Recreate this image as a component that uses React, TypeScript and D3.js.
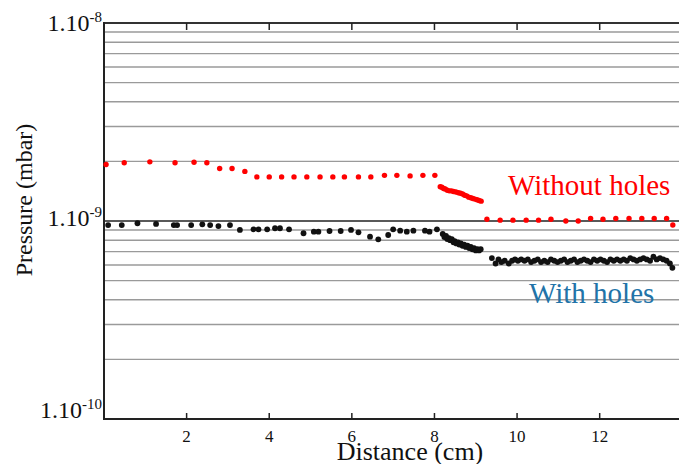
import React, { useEffect, useRef } from 'react';
import * as d3 from 'd3';

// distance (cm), pressure (x1e-9 mbar)
const withoutHoles: [number, number][] = [
  [0.05, 1.93], [0.49, 1.97], [1.11, 1.99], [1.72, 1.97], [2.18, 1.98], [2.49, 1.97],
  [2.8, 1.84], [3.1, 1.84], [3.41, 1.78], [3.7, 1.67], [4.0, 1.67], [4.3, 1.67],
  [4.6, 1.67], [4.91, 1.67], [5.23, 1.67], [5.54, 1.67], [5.82, 1.67], [6.16, 1.67],
  [6.46, 1.67], [6.79, 1.7], [7.09, 1.7], [7.41, 1.69], [7.72, 1.7], [8.01, 1.7],
  [8.14, 1.49], [8.18, 1.48], [8.22, 1.46], [8.26, 1.45], [8.31, 1.43], [8.36, 1.42],
  [8.41, 1.42], [8.46, 1.41], [8.52, 1.4], [8.58, 1.39], [8.63, 1.38], [8.68, 1.37],
  [8.73, 1.35], [8.78, 1.34], [8.83, 1.32], [8.88, 1.31], [8.93, 1.3], [8.98, 1.29],
  [9.03, 1.28], [9.08, 1.27], [9.13, 1.26],
  [9.27, 1.02], [9.59, 1.01], [9.9, 1.01], [10.22, 1.01], [10.52, 1.01], [10.82, 1.02],
  [11.18, 1.0], [11.48, 1.0], [11.78, 1.03], [12.08, 1.02], [12.39, 1.03], [12.71, 1.03],
  [13.02, 1.03], [13.32, 1.03], [13.62, 1.03], [13.77, 0.955]
];

const withHoles: [number, number][] = [
  [0.1, 0.954], [0.43, 0.954], [0.81, 0.974], [1.26, 0.966], [1.69, 0.954], [1.77, 0.954],
  [2.11, 0.954], [2.38, 0.962], [2.57, 0.954], [2.77, 0.943], [3.05, 0.954], [3.29, 0.901],
  [3.62, 0.908], [3.74, 0.908], [3.95, 0.908], [4.14, 0.919], [4.26, 0.919], [4.48, 0.908],
  [4.83, 0.867], [5.08, 0.883], [5.19, 0.883], [5.46, 0.89], [5.73, 0.89], [5.98, 0.901],
  [6.16, 0.877], [6.44, 0.833], [6.64, 0.808], [6.88, 0.85], [7.0, 0.908], [7.17, 0.894],
  [7.33, 0.883], [7.49, 0.894], [7.77, 0.894], [7.88, 0.883], [8.06, 0.908],
  [8.2, 0.86], [8.24, 0.83], [8.28, 0.84], [8.31, 0.81], [8.35, 0.82], [8.38, 0.8],
  [8.42, 0.81], [8.46, 0.78], [8.49, 0.79], [8.53, 0.77], [8.57, 0.78], [8.6, 0.76],
  [8.64, 0.77], [8.68, 0.75], [8.72, 0.76], [8.76, 0.74], [8.8, 0.75], [8.84, 0.73],
  [8.88, 0.74], [8.92, 0.72], [8.96, 0.73], [9.0, 0.71], [9.04, 0.72], [9.08, 0.71], [9.12, 0.72],
  [9.39, 0.65], [9.48, 0.61], [9.55, 0.64], [9.62, 0.62], [9.7, 0.63], [9.8, 0.61],
  [9.88, 0.63], [9.95, 0.64], [10.02, 0.63], [10.1, 0.64], [10.18, 0.63], [10.26, 0.64],
  [10.34, 0.62], [10.42, 0.63], [10.5, 0.64], [10.58, 0.62], [10.66, 0.63], [10.74, 0.62],
  [10.82, 0.64], [10.9, 0.63], [10.98, 0.62], [11.06, 0.63], [11.14, 0.64], [11.22, 0.62],
  [11.3, 0.63], [11.38, 0.64], [11.46, 0.62], [11.54, 0.63], [11.62, 0.64], [11.7, 0.63],
  [11.78, 0.62], [11.86, 0.64], [11.94, 0.63], [12.02, 0.64], [12.1, 0.63], [12.18, 0.62],
  [12.26, 0.64], [12.34, 0.63], [12.42, 0.64], [12.5, 0.63], [12.58, 0.64], [12.66, 0.63],
  [12.74, 0.65], [12.82, 0.64], [12.9, 0.63], [12.98, 0.64], [13.06, 0.65], [13.14, 0.64],
  [13.22, 0.63], [13.3, 0.66], [13.38, 0.64], [13.46, 0.65], [13.54, 0.64], [13.62, 0.63],
  [13.7, 0.61], [13.76, 0.58]
];

const xTicks = [2, 4, 6, 8, 10, 12];
const yDecades = [
  { v: 1e-8, exp: '-8' },
  { v: 1e-9, exp: '-9' },
  { v: 1e-10, exp: '-10' }
];
const minorFactors = [2, 3, 4, 5, 6, 7, 8, 9];

const FONT = '"Liberation Serif", "Times New Roman", serif';

export default function App() {
  const svgRef = useRef<SVGSVGElement>(null);

  useEffect(() => {
    const width = 679;
    const height = 464;
    const left = 104, right = 679, top = 23, bottom = 419;

    const svg = d3.select(svgRef.current);
    svg.selectAll('*').remove();
    svg.attr('width', width).attr('height', height);

    const x = d3.scaleLinear().domain([0, 13.92]).range([left, right]);
    const y = d3.scaleLog().domain([1e-10, 1e-8]).range([bottom, top]);

    // minor log grid
    const gridVals: number[] = [];
    [1e-10, 1e-9].forEach(d => minorFactors.forEach(f => gridVals.push(d * f)));

    svg.append('g')
      .selectAll('line')
      .data(gridVals)
      .join('line')
      .attr('x1', left).attr('x2', right)
      .attr('y1', d => y(d)).attr('y2', d => y(d))
      .attr('stroke', '#9a9a9a')
      .attr('stroke-width', 1.4);

    // decade line
    svg.append('line')
      .attr('x1', left).attr('x2', right)
      .attr('y1', y(1e-9)).attr('y2', y(1e-9))
      .attr('stroke', '#222')
      .attr('stroke-width', 1.6);

    // frame
    svg.append('line')
      .attr('x1', left).attr('x2', right)
      .attr('y1', top).attr('y2', top)
      .attr('stroke', '#333').attr('stroke-width', 2);
    svg.append('line')
      .attr('x1', left).attr('x2', right)
      .attr('y1', bottom).attr('y2', bottom)
      .attr('stroke', '#222').attr('stroke-width', 2);
    svg.append('line')
      .attr('x1', left).attr('x2', left)
      .attr('y1', top - 1).attr('y2', bottom + 1)
      .attr('stroke', '#222').attr('stroke-width', 2);

    // x ticks (inward)
    const ticks = svg.append('g');
    ticks.selectAll('line.b')
      .data(xTicks)
      .join('line')
      .attr('class', 'b')
      .attr('x1', d => x(d)).attr('x2', d => x(d))
      .attr('y1', bottom).attr('y2', bottom - 6)
      .attr('stroke', '#222').attr('stroke-width', 1.5);
    ticks.selectAll('line.t')
      .data(xTicks)
      .join('line')
      .attr('class', 't')
      .attr('x1', d => x(d)).attr('x2', d => x(d))
      .attr('y1', top).attr('y2', top + 7)
      .attr('stroke', '#222').attr('stroke-width', 1.5);

    svg.append('g')
      .selectAll('text')
      .data(xTicks)
      .join('text')
      .attr('x', d => x(d))
      .attr('y', 442)
      .attr('text-anchor', 'middle')
      .attr('font-family', FONT)
      .attr('font-size', 17)
      .attr('fill', '#111')
      .text(d => d);

    // y decade labels
    const yOffsets = [8, 5, -1];
    yDecades.forEach((d, i) => {
      const t = svg.append('text')
        .attr('x', 102)
        .attr('y', y(d.v) + yOffsets[i])
        .attr('text-anchor', 'end')
        .attr('font-family', FONT)
        .attr('font-size', 24)
        .attr('fill', '#111');
      t.append('tspan').text('1.10');
      t.append('tspan')
        .attr('font-size', 15)
        .attr('dy', -9)
        .text(d.exp);
    });

    // axis titles
    svg.append('text')
      .attr('x', 410)
      .attr('y', 460)
      .attr('text-anchor', 'middle')
      .attr('font-family', FONT)
      .attr('font-size', 26)
      .attr('fill', '#111')
      .text('Distance (cm)');

    svg.append('text')
      .attr('transform', 'translate(32,200) rotate(-90)')
      .attr('text-anchor', 'middle')
      .attr('font-family', FONT)
      .attr('font-size', 24)
      .attr('fill', '#111')
      .text('Pressure (mbar)');

    // data
    svg.append('g')
      .selectAll('circle')
      .data(withoutHoles)
      .join('circle')
      .attr('cx', d => x(d[0]))
      .attr('cy', d => y(d[1] * 1e-9))
      .attr('r', 2.7)
      .attr('fill', '#ff0000');

    svg.append('g')
      .selectAll('circle')
      .data(withHoles)
      .join('circle')
      .attr('cx', d => x(d[0]))
      .attr('cy', d => y(d[1] * 1e-9))
      .attr('r', 2.9)
      .attr('fill', '#111');

    // series labels
    svg.append('text')
      .attr('x', 508)
      .attr('y', 195)
      .attr('font-family', FONT)
      .attr('font-size', 29)
      .attr('fill', '#ff0000')
      .text('Without holes');

    svg.append('text')
      .attr('x', 529)
      .attr('y', 303)
      .attr('font-family', FONT)
      .attr('font-size', 29)
      .attr('fill', '#2273a8')
      .text('With holes');
  }, []);

  return (
    <div style={{ position: 'absolute', left: 0, top: 0 }}>
      <svg ref={svgRef}></svg>
    </div>
  );
}
